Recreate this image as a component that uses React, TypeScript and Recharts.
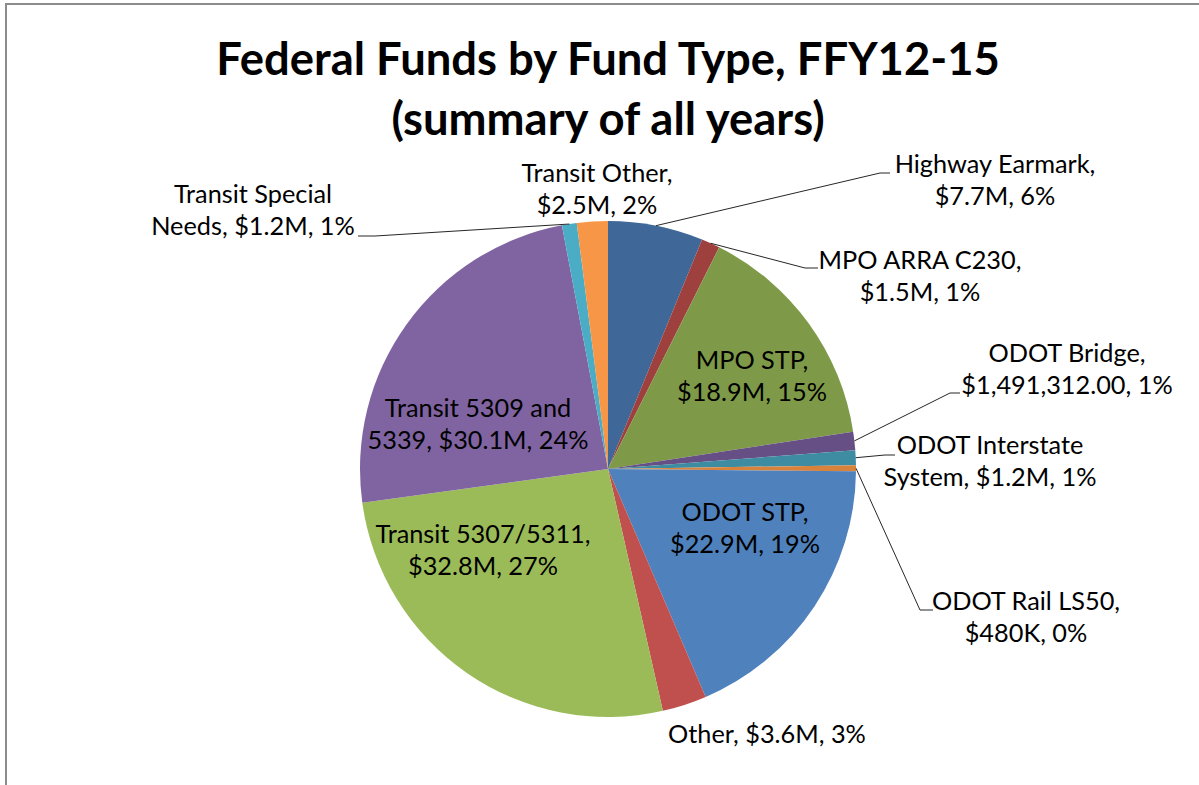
import React from "react";
import { PieChart, Pie, Cell } from "recharts";

// ---- data ----
const categories = [
  "Highway Earmark",
  "MPO ARRA C230",
  "MPO STP",
  "ODOT Bridge",
  "ODOT Interstate System",
  "ODOT Rail LS50",
  "ODOT STP",
  "Other",
  "Transit 5307/5311",
  "Transit 5309 and 5339",
  "Transit Special Needs",
  "Transit Other",
];
// millions of dollars
const amounts = [7.7, 1.5, 18.9, 1.491312, 1.2, 0.48, 22.9, 3.6, 32.8, 30.1, 1.2, 2.5];
const labelTexts: string[][] = [
  ["Highway Earmark,", "$7.7M, 6%"],
  ["MPO ARRA C230,", "$1.5M, 1%"],
  ["MPO STP,", "$18.9M, 15%"],
  ["ODOT Bridge,", "$1,491,312.00, 1%"],
  ["ODOT Interstate", "System, $1.2M, 1%"],
  ["ODOT Rail LS50,", "$480K, 0%"],
  ["ODOT STP,", "$22.9M, 19%"],
  ["Other, $3.6M, 3%"],
  ["Transit 5307/5311,", "$32.8M, 27%"],
  ["Transit 5309 and", "5339, $30.1M, 24%"],
  ["Transit Special", "Needs, $1.2M, 1%"],
  ["Transit Other,", "$2.5M, 2%"],
];
const titleLines = ["Federal Funds by Fund Type, FFY12-15", "(summary of all years)"];

// ---- styles / layout ----
const sliceColors = [
  "#3F6797", "#9E413E", "#7E9A48", "#664F84", "#3D8CA2", "#D9823C",
  "#4F81BD", "#C0504D", "#9BBB59", "#8064A2", "#4BACC6", "#F79646",
];
// label anchor (centre x, baseline of first line) and optional leader elbow/end
const labelLayout: { x: number; y: number; leader?: number[] }[] = [
  { x: 995, y: 173, leader: [880, 173, 890, 173] },
  { x: 920, y: 269, leader: [805, 268, 818, 268] },
  { x: 752, y: 369 },
  { x: 1067, y: 362, leader: [950, 393, 960, 393] },
  { x: 990, y: 454, leader: [885, 455, 895, 455] },
  { x: 1026, y: 610, leader: [920, 610, 933, 610] },
  { x: 745, y: 521 },
  { x: 767, y: 743 },
  { x: 483, y: 543 },
  { x: 478, y: 417 },
  { x: 253, y: 203, leader: [375, 236, 358, 236] },
  { x: 597, y: 182 },
];
const FONT = "Lato, 'Open Sans', sans-serif";
const LABEL_SIZE = 25.3;
const LINE_H = 32;

const data = categories.map((name, i) => ({ name, value: amounts[i] }));

const RAD = Math.PI / 180;
const renderLabel = (props: any) => {
  const { cx, cy, midAngle, outerRadius, index } = props;
  const sx = cx + outerRadius * Math.cos(-midAngle * RAD);
  const sy = cy + outerRadius * Math.sin(-midAngle * RAD);
  const L = labelLayout[index];
  const lines = labelTexts[index];
  return (
    <g key={`lbl-${index}`}>
      {L.leader && (
        <polyline
          points={`${sx},${sy} ${L.leader[0]},${L.leader[1]} ${L.leader[2]},${L.leader[3]}`}
          fill="none"
          stroke="#262626"
          strokeWidth={1}
        />
      )}
      <text
        x={L.x}
        y={L.y}
        textAnchor="middle"
        fontFamily={FONT}
        fontSize={LABEL_SIZE}
        fill="#000"
      >
        {lines.map((t, i) => (
          <tspan key={i} x={L.x} dy={i === 0 ? 0 : LINE_H}>
            {t}
          </tspan>
        ))}
      </text>
    </g>
  );
};

export default function App() {
  return (
    <div style={{ position: "absolute", left: 0, top: 0, width: 1199, height: 785, background: "#fff", overflow: "hidden" }}>
      <div
        style={{
          position: "absolute",
          left: 5,
          top: 3,
          width: 1300,
          height: 900,
          borderTop: "2px solid #8C8C8C",
          borderLeft: "2px solid #8C8C8C",
        }}
      />
      {titleLines.map((t, i) => (
        <div
          key={i}
          style={{
            position: "absolute",
            left: 0,
            width: 1216,
            top: i === 0 ? 30 : 90,
            textAlign: "center",
            fontFamily: FONT,
            fontWeight: 700,
            fontSize: 45.4,
            lineHeight: "56px",
            color: "#000",
            whiteSpace: "nowrap",
          }}
        >
          {t}
        </div>
      ))}
      <div style={{ position: "absolute", left: 0, top: 0 }}>
        <PieChart width={1199} height={785} margin={{ top: 0, right: 0, bottom: 0, left: 0 }}>
          <Pie
            data={data}
            dataKey="value"
            nameKey="name"
            cx={608}
            cy={469}
            outerRadius={248}
            startAngle={90}
            endAngle={-270}
            stroke="none"
            isAnimationActive={false}
            label={renderLabel}
            labelLine={false}
          >
            {data.map((d, i) => (
              <Cell key={d.name} fill={sliceColors[i]} />
            ))}
          </Pie>
        </PieChart>
      </div>
    </div>
  );
}
